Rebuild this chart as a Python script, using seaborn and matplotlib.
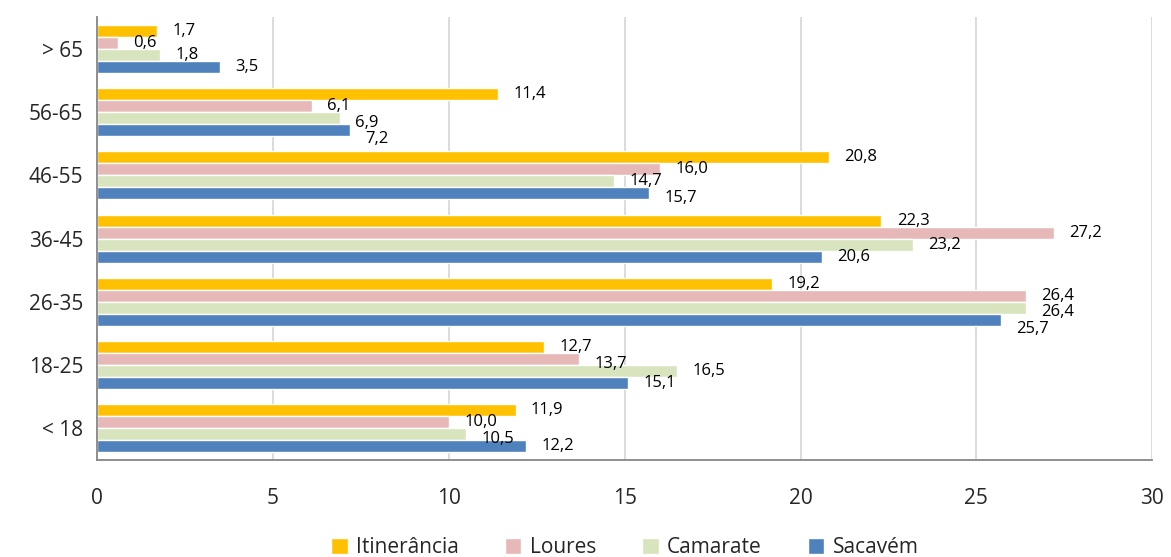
import pandas as pd
import numpy as np
import seaborn as sns
import matplotlib.pyplot as plt
from matplotlib.ticker import FixedLocator

# Age groups (top to bottom) and the four series
age_groups = ['> 65', '56-65', '46-55', '36-45', '26-35', '18-25', '< 18']
series = ['Itinerância', 'Loures', 'Camarate', 'Sacavém']

itinerancia = [1.7, 11.4, 20.8, 22.3, 19.2, 12.7, 11.9]
loures = [0.6, 6.1, 16.0, 27.2, 26.4, 13.7, 10.0]
camarate = [1.8, 6.9, 14.7, 23.2, 26.4, 16.5, 10.5]
sacavem = [3.5, 7.2, 15.7, 20.6, 25.7, 15.1, 12.2]

x_ticks = [0, 5, 10, 15, 20, 25, 30]

colors = ['#FFC000', '#E6B9B8', '#D7E4BD', '#4F81BD']

# Build long-form table
values = [itinerancia, loures, camarate, sacavem]
rows = []
for name, vals in zip(series, values):
    for grp, v in zip(age_groups, vals):
        rows.append({'Idade': grp, 'Série': name, 'Valor': v})
df = pd.DataFrame(rows)

sns.set_style('white')
plt.rcParams['font.family'] = ['Open Sans', 'DejaVu Sans']

fig = plt.figure(figsize=(11.71, 5.57), dpi=100)
ax = fig.add_axes([0.083, 0.174, 0.901, 0.795])

sns.barplot(data=df, x='Valor', y='Idade', hue='Série', order=age_groups,
            hue_order=series, palette=colors, orient='h', width=0.76,
            gap=0, saturation=1, errorbar=None, ax=ax)

# Data labels with comma decimals, nudged down when they would collide (Excel-like)
min_dy = 0.26
min_dx = 1.1
for gi in range(len(age_groups)):
    placed = []
    for cont in ax.containers:
        b = cont[gi]
        w = b.get_width()
        y = b.get_y() + b.get_height() / 2
        for px, py in placed:
            if abs(px - w) < min_dx and abs(py - y) < min_dy:
                y = py + min_dy
        placed.append((w, y))
        ax.annotate(f'{w:.1f}'.replace('.', ','), (w, y), xytext=(11, 0),
                    textcoords='offset points', va='center', ha='left',
                    fontsize=12, color='black')

ax.set_xlim(0, 30)
ax.set_ylim(6.5, -0.5)
ax.set_xticks(x_ticks)
ax.set_xticklabels([str(t) for t in x_ticks])
ax.xaxis.grid(True, color='#D9D9D9', linewidth=1.3)
ax.set_axisbelow(True)

# Category ticks at group boundaries
ax.tick_params(axis='y', which='major', length=0, labelsize=15, pad=10)
ax.yaxis.set_minor_locator(FixedLocator(np.arange(-0.5, 7, 1)))
ax.tick_params(axis='y', which='minor', length=6, width=1.3, color='#868686', direction='out')
ax.tick_params(axis='x', which='major', length=0, labelsize=15, pad=20)

for side in ['top', 'right']:
    ax.spines[side].set_visible(False)
for side in ['left', 'bottom']:
    ax.spines[side].set_color('#868686')
    ax.spines[side].set_linewidth(1.3)

ax.set_xlabel('')
ax.set_ylabel('')

ax.legend(loc='center', bbox_to_anchor=(0.5, -0.197), ncol=4, frameon=False,
          fontsize=15, handlelength=0.8, handleheight=0.8, handletextpad=0.4,
          columnspacing=2.2)

fig.savefig('out.png', dpi=100)
